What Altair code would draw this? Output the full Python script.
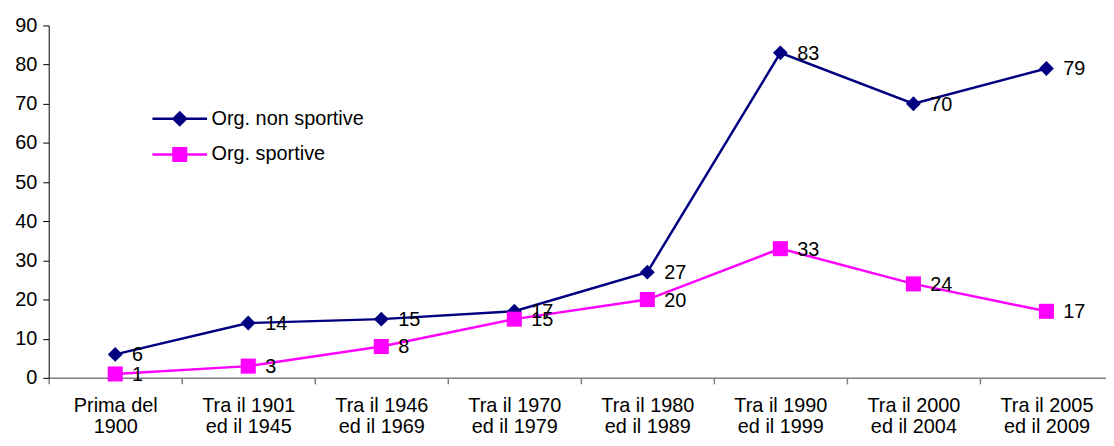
import altair as alt
import pandas as pd

categories = [
    "Prima del|1900",
    "Tra il 1901|ed il 1945",
    "Tra il 1946|ed il 1969",
    "Tra il 1970|ed il 1979",
    "Tra il 1980|ed il 1989",
    "Tra il 1990|ed il 1999",
    "Tra il 2000|ed il 2004",
    "Tra il 2005|ed il 2009",
]
series_names = ["Org. non sportive", "Org. sportive"]
non_sportive = [6, 14, 15, 17, 27, 83, 70, 79]
sportive = [1, 3, 8, 15, 20, 33, 24, 17]
y_ticks = [0, 10, 20, 30, 40, 50, 60, 70, 80, 90]
colors = ["#000080", "#FF00FF"]
marker_shapes = ["diamond", "square"]
marker_sizes = [225, 230]

rows = []
for s, vals in zip(series_names, [non_sportive, sportive]):
    for c, v in zip(categories, vals):
        rows.append({"periodo": c, "serie": s, "valore": v})
df = pd.DataFrame(rows)

FONT = "Liberation Sans"
FS = 20

# legend symbols: a line segment with the marker in the middle
path_diamond = "M-1,0H1M-0.23,0L0,-0.23L0.23,0L0,0.23Z"
path_square = "M-1,0H1M-0.23,-0.23H0.23V0.23H-0.23Z"

x = alt.X(
    "periodo:N",
    sort=categories,
    scale=alt.Scale(type="band", paddingInner=0, paddingOuter=0, range=[0, 1072]),
    axis=alt.Axis(
        title=None, labelAngle=0, labelExpr="split(datum.label, '|')",
        tickBand="extent", domainColor="#808080", tickColor="#808080",
        domainWidth=1.5, tickWidth=1.5,
        tickSize=6, labelPadding=12, labelFontSize=FS, labelLineHeight=21,
        labelColor="black", labelFont=FONT, labelBaseline="top",
    ),
)
y = alt.Y(
    "valore:Q",
    scale=alt.Scale(domain=[0, 90], nice=False),
    axis=alt.Axis(
        title=None, values=y_ticks, grid=False, domainColor="black",
        tickColor="black", tickSize=6, labelPadding=6, labelFontSize=FS,
        labelColor="black", labelFont=FONT,
    ),
)

legend = alt.Legend(
    title=None, orient="none", legendX=103, legendY=77, direction="vertical",
    symbolSize=3025, symbolStrokeWidth=2.5, symbolOpacity=1,
    labelFontSize=FS, labelFont=FONT, clipHeight=34,
    labelColor="black", labelOffset=3, rowPadding=2, padding=0,
)

base = alt.Chart(df)

layers = []
for name, col, shp, sz in zip(series_names, colors, marker_shapes, marker_sizes):
    sub = base.transform_filter(alt.datum.serie == name)
    layers.append(sub.mark_line(strokeWidth=2.5, color=col).encode(x=x, y=y))
    layers.append(sub.mark_point(filled=True, size=sz, opacity=1, shape=shp, color=col)
                  .encode(x=x, y=y))

labels = base.mark_text(align="left", baseline="middle", dx=17, dy=1,
                        fontSize=FS, font=FONT, color="black").encode(
    x=x, y=y, text="valore:Q", detail="serie:N"
)
legend_layer = base.mark_point(filled=True, strokeWidth=2.5, opacity=0).encode(
    x=x, y=y,
    fill=alt.Fill("serie:N", sort=series_names,
                  scale=alt.Scale(domain=series_names, range=colors), legend=legend),
    stroke=alt.Stroke("serie:N", sort=series_names,
                      scale=alt.Scale(domain=series_names, range=colors), legend=legend),
    shape=alt.Shape("serie:N", sort=series_names,
                    scale=alt.Scale(domain=series_names, range=[path_diamond, path_square]),
                    legend=legend),
)

chart = (
    alt.layer(*layers, labels, legend_layer)
    .properties(
        width=1065, height=355,
        padding={"left": 41, "top": 16, "right": 0, "bottom": 59},
        autosize=alt.AutoSizeParams(type="none"),
    )
    .configure_view(stroke=None)
)

chart.save("out.html", embed_options={"renderer": "svg", "actions": False})
